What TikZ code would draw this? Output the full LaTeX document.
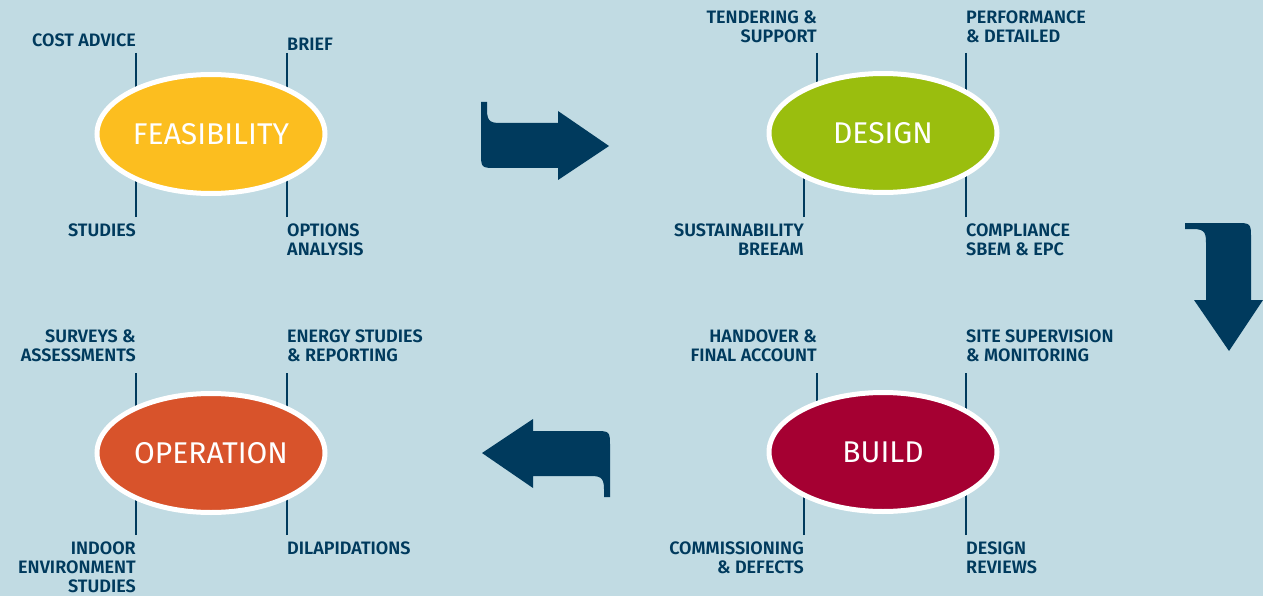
\documentclass[tikz,border=0pt]{standalone}
\usepackage{fontspec}
\setmainfont{Fira Sans}[BoldFont={Fira Sans SemiBold}]
\usepackage{tikz}
\usetikzlibrary{shapes.geometric}
\definecolor{bg}{HTML}{C1DBE3}
\definecolor{navy}{HTML}{003A5D}
\definecolor{feas}{HTML}{FCBE1F}
\definecolor{desg}{HTML}{9ABE0E}
\definecolor{oper}{HTML}{D8532B}
\definecolor{buil}{HTML}{A50032}
\pgfdeclarelayer{back}
\pgfsetlayers{back,main}
\tikzset{
  stage/.style={ellipse, draw=white, line width=5pt, minimum width=228pt,
    minimum height=119pt, inner sep=0pt, text=white,
    font=\fontsize{30}{30}\selectfont},
  lab/.style={text=navy, inner sep=0pt, font=\bfseries\fontsize{18}{19}\selectfont},
  labl/.style={lab, align=left},
  labr/.style={lab, align=right},
  tick/.style={draw=navy, line width=1.3pt},
  flowarrow/.style={fill=navy}
}
\newcommand{\bentarrow}{(481,102) -- (487,102) -- (487,110)
  .. controls (487,123) and (492,123) .. (503,123) -- (558,123) -- (558,111)
  -- (609,146) -- (558,180) -- (558,168) -- (497,168)
  .. controls (481,168) .. (481,152) -- cycle}

\begin{document}
\begin{tikzpicture}[x=1pt, y=-1pt]
  \useasboundingbox (0,0) rectangle (1263,596);
  \begin{pgfonlayer}{back}
    \fill[bg] (0,0) rectangle (1263,596);
  \end{pgfonlayer}

  % stages
  \node[stage, fill=feas] (fea) at (211,134) {FEASIBILITY};
  \node[stage, fill=desg] (des) at (883,133) {DESIGN};
  \node[stage, fill=oper] (ope) at (211,453) {OPERATION};
  \node[stage, fill=buil] (bui) at (883,452) {BUILD};

  % feasibility labels
  \node[labr, anchor=south east] (fea1) at (136,47) {COST ADVICE};
  \node[labl, anchor=south west] (fea2) at (287,51) {BRIEF};
  \node[labr, anchor=north east] (fea3) at (136,224) {STUDIES};
  \node[labl, anchor=north west] (fea4) at (287,224) {OPTIONS\\ANALYSIS};

  % design labels
  \node[labr, anchor=south east] (des1) at (817,43) {TENDERING \&\\SUPPORT};
  \node[labl, anchor=south west] (des2) at (966,43) {PERFORMANCE\\\& DETAILED};
  \node[labr, anchor=north east] (des3) at (804,224) {SUSTAINABILITY\\BREEAM};
  \node[labl, anchor=north west] (des4) at (966,224) {COMPLIANCE\\SBEM \& EPC};

  % operation labels
  \node[labr, anchor=south east] (ope1) at (136,362) {SURVEYS \&\\ASSESSMENTS};
  \node[labl, anchor=south west] (ope2) at (287,362) {ENERGY STUDIES\\\& REPORTING};
  \node[labr, anchor=north east] (ope3) at (136,542) {INDOOR\\ENVIRONMENT\\STUDIES};
  \node[labl, anchor=north west] (ope4) at (287,542) {DILAPIDATIONS};

  % build labels
  \node[labr, anchor=south east] (bui1) at (817,362) {HANDOVER \&\\FINAL ACCOUNT};
  \node[labl, anchor=south west] (bui2) at (966,362) {SITE SUPERVISION\\\& MONITORING};
  \node[labr, anchor=north east] (bui3) at (804,542) {COMMISSIONING\\\& DEFECTS};
  \node[labl, anchor=north west] (bui4) at (966,542) {DESIGN\\REVIEWS};

  % ticks, behind the ellipses
  \begin{pgfonlayer}{back}
    \draw[tick] (fea1.south east) ++(0,6) -- (fea1.south east |- fea.center);
    \draw[tick] (fea2.south west) ++(0,2) -- (fea2.south west |- fea.center);
    \draw[tick] (des1.south east) ++(0,10) -- (des1.south east |- des.center);
    \draw[tick] (des2.south west) ++(0,10) -- (des2.south west |- des.center);
    \draw[tick] (ope1.south east) ++(0,11) -- (ope1.south east |- ope.center);
    \draw[tick] (ope2.south west) ++(0,11) -- (ope2.south west |- ope.center);
    \draw[tick] (bui1.south east) ++(0,11) -- (bui1.south east |- bui.center);
    \draw[tick] (bui2.south west) ++(0,11) -- (bui2.south west |- bui.center);
    \foreach \s/\n in {fea/fea3, des/des3, ope/ope3, bui/bui3}
      \draw[tick] (\n.north east) ++(0,-7) -- (\n.north east |- \s.center);
    \foreach \s/\n in {fea/fea4, des/des4, ope/ope4, bui/bui4}
      \draw[tick] (\n.north west) ++(0,-7) -- (\n.north west |- \s.center);
  \end{pgfonlayer}

  % bent arrows
  \fill[flowarrow] \bentarrow;
  \begin{scope}[cm={0,-1,-1,0,(1083pt,258pt)}]
    \fill[flowarrow] \bentarrow;
  \end{scope}
  \begin{scope}[shift={(1091,599)}, rotate=180]
    \fill[flowarrow] \bentarrow;
  \end{scope}
\end{tikzpicture}
\end{document}
